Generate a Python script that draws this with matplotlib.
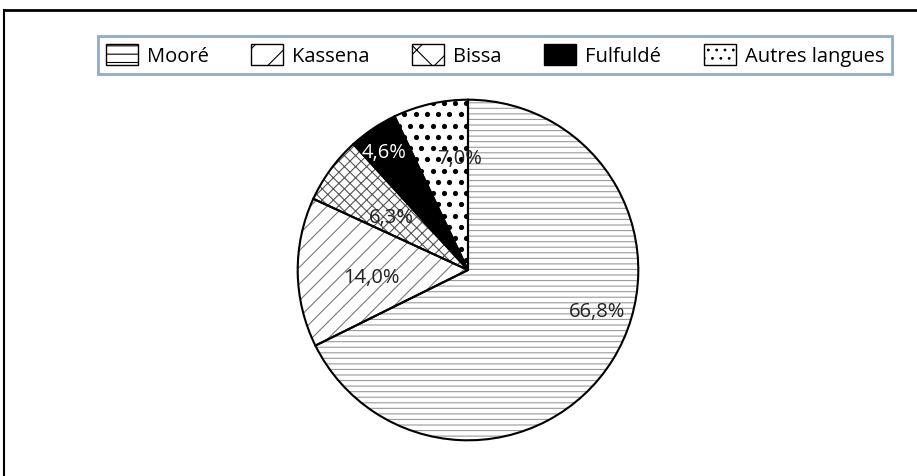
import numpy as np
import matplotlib
matplotlib.use("Agg")
import matplotlib.pyplot as plt
from matplotlib.patches import Patch
from matplotlib.lines import Line2D

plt.rcParams['font.family'] = ['Open Sans', 'DejaVu Sans']
plt.rcParams['hatch.linewidth'] = 0.8

# data
langues = ["Mooré", "Kassena", "Bissa", "Fulfuldé", "Autres langues"]
parts = [66.8, 14.0, 6.3, 4.6, 7.0]
etiquettes = ["66,8%", "14,0%", "6,3%", "4,6%", "7,0%"]

# styles
hachures = ["---", "//", "xxx", "", ""]
hachures_legende = ["--", "/", "x", "", ".."]
fonds = ["white", "white", "white", "black", "white"]
couleurs_hachure = ["#9a9a9a", "#7a7a7a", "#555555", "black", "black"]
# label positions in radius units, relative to the centre
pos_etiq = [(0.76, -0.24), (-0.57, -0.04), (-0.45, 0.31), (-0.49, 0.69), (-0.05, 0.66)]
couleurs_texte = ["#222222", "#222222", "#222222", "white", "#222222"]

fig = plt.figure(figsize=(9.17, 4.77), dpi=100)
W, H = 917, 477

# outer frame (top + left only)
fig.add_artist(Line2D([4 / W, 1.0], [1 - 11 / H, 1 - 11 / H], color="black", lw=2))
fig.add_artist(Line2D([4 / W, 4 / W], [0, 1 - 11 / H], color="black", lw=1.5))

ax = fig.add_axes([296 / W, (H - 443) / H, 344 / W, 344 / H])

# hatched fill first, hatch colour taken from the edge
wedges, _ = ax.pie(parts, startangle=90, counterclock=False, radius=1,
                   colors=fonds, wedgeprops=dict(linewidth=0))
for w, h, hc in zip(wedges, hachures, couleurs_hachure):
    w.set_hatch(h)
    w.set_edgecolor(hc)

# dotted pattern for "Autres langues", clipped to its wedge
pas = 0.066
gx, gy = np.meshgrid(np.arange(-1, 1, pas), np.arange(-1, 1, pas))
gx = gx + (np.arange(gx.shape[0]) % 2)[:, None] * pas / 2
pts = ax.scatter(gx.ravel(), gy.ravel(), s=14, color="black", linewidths=0, zorder=2)
pts.set_clip_path(wedges[4])

# black outlines on top
ax.pie(parts, startangle=90, counterclock=False, radius=1,
       colors=["none"] * len(parts),
       wedgeprops=dict(linewidth=1.5, edgecolor="black", fill=False, zorder=3))

for (x, y), txt, c in zip(pos_etiq, etiquettes, couleurs_texte):
    ax.text(x, y, txt, ha="center", va="center", fontsize=14.5, color=c, zorder=4)

ax.set_xlim(-1.01, 1.01)
ax.set_ylim(-1.01, 1.01)
ax.set_aspect("equal")
ax.axis("off")

# legend
poignees = []
for h, f in zip(hachures_legende, fonds):
    poignees.append(Patch(facecolor=f, edgecolor="black", hatch=h, linewidth=1))
leg = fig.legend(poignees, langues, loc="center", bbox_to_anchor=(495 / W, 1 - 56 / H),
                 ncol=5, fontsize=14.5, frameon=True, fancybox=False,
                 handlelength=1.6, handleheight=1.2, handletextpad=0.45,
                 columnspacing=2.1, borderpad=0.4)
leg.get_frame().set_edgecolor("#7396c1")
leg.get_frame().set_linewidth(2)

fig.savefig("out.png", dpi=100)
